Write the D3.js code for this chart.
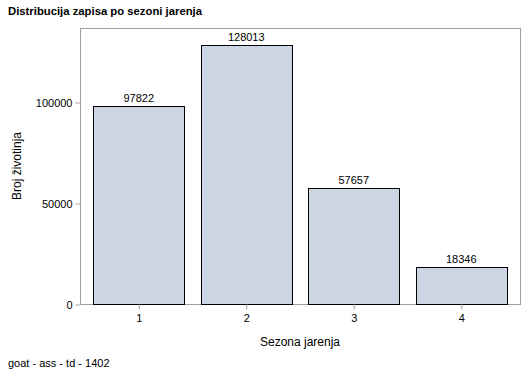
<!DOCTYPE html>
<html>
<head>
<meta charset="utf-8">
<script src="https://cdn.jsdelivr.net/npm/d3@7"></script>
<style>
    body { margin: 0; background: #fff; }
    text { font-family: "Liberation Sans", Arial, sans-serif; }
</style>
</head>
<body>
<div id="chart"></div>
<script>
// podaci
const seasons = ["1", "2", "3", "4"];
const counts = [97822, 128013, 57657, 18346];
const yTicks = [0, 50000, 100000];

const width = 529, height = 377;
const frame = { left: 80, top: 28, right: 520, bottom: 304 };

let svg = d3.select("#chart").append("svg")
    .attr("width", width)
    .attr("height", height);

let x = d3.scaleBand()
    .domain(seasons)
    .range([frame.left + 5, frame.right - 5])
    .paddingInner(0.15)
    .paddingOuter(0.075);

let y = d3.scaleLinear()
    .domain([0, 100000 * (frame.bottom - frame.top) / 202])
    .range([frame.bottom, frame.top]);

// okvir
svg.append("rect")
    .attr("x", frame.left + 0.5)
    .attr("y", frame.top + 0.5)
    .attr("width", frame.right - frame.left)
    .attr("height", frame.bottom - frame.top)
    .attr("fill", "none")
    .attr("stroke", "#a0a0a0");

// stupci
svg.selectAll(".bar")
    .data(counts)
    .enter()
    .append("rect")
    .attr("class", "bar")
    .attr("x", (d, i) => Math.round(x(seasons[i])) + 0.5)
    .attr("y", d => Math.round(y(d)) + 0.5)
    .attr("width", Math.round(x.bandwidth()))
    .attr("height", d => frame.bottom - Math.round(y(d)))
    .attr("fill", "#cbd5e4")
    .attr("stroke", "#000");

svg.selectAll(".val")
    .data(counts)
    .enter()
    .append("text")
    .attr("class", "val")
    .attr("x", (d, i) => x(seasons[i]) + x.bandwidth() / 2)
    .attr("y", d => y(d) - 4)
    .attr("text-anchor", "middle")
    .attr("font-size", 11)
    .text(d => d);

// osi
let yAxis = svg.append("g")
    .attr("transform", "translate(" + (frame.left + 0.5) + ",0.5)")
    .call(d3.axisLeft(y).tickValues(yTicks).tickSize(5).tickPadding(3).tickFormat(d3.format("d")));
yAxis.select(".domain").remove();
yAxis.selectAll("line").attr("stroke", "#a0a0a0");
yAxis.selectAll("text").attr("font-size", 11).attr("font-family", null).attr("fill", "#000");

let xAxis = svg.append("g")
    .attr("transform", "translate(0.5," + (frame.bottom + 0.5) + ")")
    .call(d3.axisBottom(x).tickSize(5).tickPadding(5));
xAxis.select(".domain").remove();
xAxis.selectAll("line").attr("stroke", "#a0a0a0");
xAxis.selectAll("text").attr("font-size", 11).attr("font-family", null).attr("fill", "#000");

// naslovi
svg.append("text")
    .attr("x", 8)
    .attr("y", 15)
    .attr("font-size", 11.3)
    .attr("font-weight", "bold")
    .text("Distribucija zapisa po sezoni jarenja");

svg.append("text")
    .attr("x", (frame.left + frame.right) / 2)
    .attr("y", 346)
    .attr("text-anchor", "middle")
    .attr("font-size", 12)
    .text("Sezona jarenja");

svg.append("text")
    .attr("transform", "translate(21," + (frame.top + frame.bottom) / 2 + ") rotate(-90)")
    .attr("text-anchor", "middle")
    .attr("font-size", 12)
    .text("Broj životinja");

svg.append("text")
    .attr("x", 8)
    .attr("y", 367)
    .attr("font-size", 11)
    .text("goat - ass - td - 1402");
</script>
</body>
</html>
